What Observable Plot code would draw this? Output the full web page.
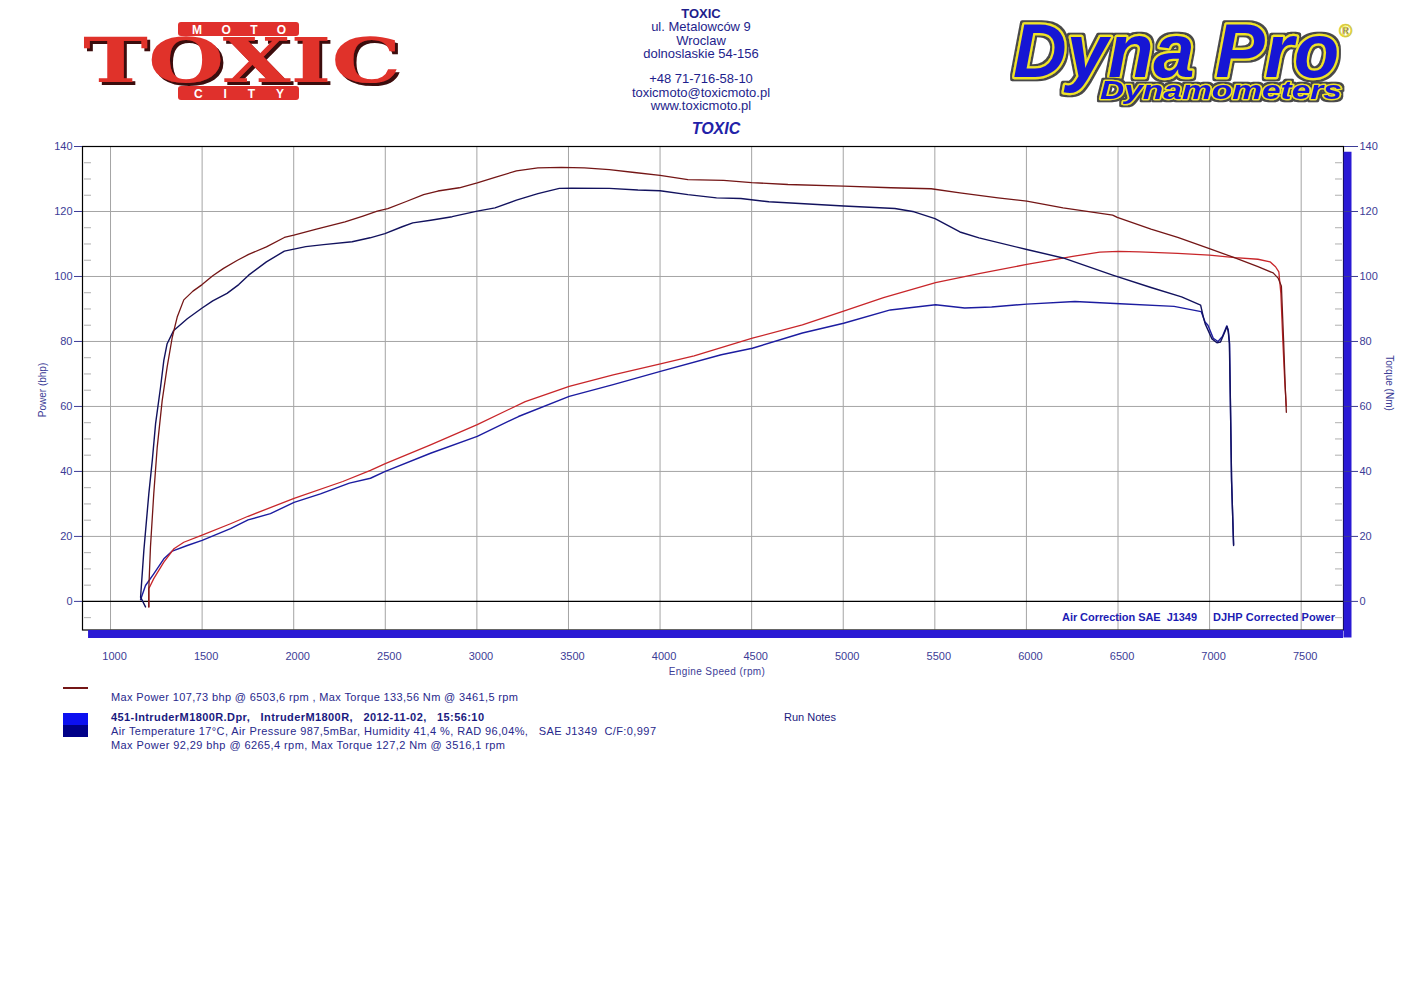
<!DOCTYPE html>
<html><head><meta charset="utf-8">
<script src="https://cdn.jsdelivr.net/npm/d3@7"></script>
<script src="https://cdn.jsdelivr.net/npm/@observablehq/plot@0.6"></script>
<style>
body{margin:0;background:#fff;font-family:"Liberation Sans",Arial,sans-serif}
#page{position:relative;width:1403px;height:992px;overflow:hidden;background:#fff}
#chart{position:absolute;left:0;top:130px;z-index:1}
#overlay{position:absolute;left:0;top:0;z-index:2;pointer-events:none}
#overlay text{white-space:pre}
</style></head><body>
<div id="page"><div id="chart"></div><svg id="overlay" width="1403" height="992" xmlns="http://www.w3.org/2000/svg">
<defs>
<filter id="toxShadow" x="-5%" y="-10%" width="115%" height="130%">
  <feOffset in="SourceAlpha" dx="3" dy="3" result="off"/>
  <feFlood flood-color="#3a0808"/>
  <feComposite in2="off" operator="in" result="sh"/>
  <feMerge><feMergeNode in="sh"/><feMergeNode in="SourceGraphic"/></feMerge>
</filter>
<filter id="dpOutline" x="-10%" y="-25%" width="120%" height="150%">
  <feMorphology in="SourceAlpha" operator="dilate" radius="1.6" result="d"/>
  <feFlood flood-color="#4a4a4a"/>
  <feComposite in2="d" operator="in" result="o"/>
  <feMerge><feMergeNode in="o"/><feMergeNode in="SourceGraphic"/></feMerge>
</filter>
</defs>
</svg></div>
<script>
// ---------- DATA (rpm, value) ----------
// Run 1 (red): torque in Nm, power in bhp
const redTorque = [[1209,-1.7],[1209,4],[1218,16.7],[1236,33.1],[1255,47.5],[1282,61.8],[1309,72.1],[1337,81.3],[1364,87.5],[1400,92.8],[1450,95.5],[1500,97.5],[1558,100.2],[1617,102.5],[1693,105],[1754,106.8],[1851,109.1],[1949,112],[2001,112.7],[2124,114.6],[2280,116.8],[2378,118.6],[2456,120.1],[2514,120.9],[2611,123],[2709,125.2],[2787,126.3],[2904,127.3],[3002,128.8],[3099,130.5],[3216,132.5],[3333,133.4],[3461,133.56],[3587,133.4],[3723,132.9],[3860,132],[4000,131.1],[4152,129.8],[4347,129.6],[4500,128.9],[4698,128.3],[5003,127.8],[5261,127.3],[5480,127],[5637,125.7],[5845,124.2],[6002,123.2],[6200,121.1],[6471,118.9],[6496,118.2],[6680,114.6],[6826,112],[6999,108.6],[7139,105.7],[7264,103],[7347,101.1],[7374,99.5],[7392,97],[7404,80.3],[7413,66],[7419,58.2]];
const redPower = [[1209,-1.7],[1209,3.9],[1236,7],[1291,12.1],[1346,16.2],[1400,18.2],[1500,20.4],[1655,23.9],[1751,26.2],[2002,31.7],[2268,36.9],[2419,40.3],[2500,42.4],[2747,48.2],[3002,54.4],[3264,61.5],[3504,66.2],[3744,69.7],[4002,73.1],[4186,75.6],[4504,81],[4777,85.1],[5002,89.3],[5220,93.5],[5504,98.1],[5741,100.9],[6002,103.7],[6253,106.2],[6400,107.5],[6504,107.73],[6617,107.6],[6826,107.1],[6999,106.6],[7139,105.8],[7264,105.3],[7330,104.5],[7360,103],[7378,101.4],[7389,94.8],[7400,80],[7410,68],[7419,60]];
// Run 2 (blue): 451-IntruderM1800R
const blueTorque = [[1191,-1.7],[1164,1.3],[1182,15.7],[1209,33.1],[1228,43.4],[1246,54.7],[1273,65.9],[1291,74.2],[1309,79.3],[1345,83.4],[1419,87],[1500,90.3],[1558,92.5],[1636,94.8],[1700,97.5],[1754,100.4],[1851,104.5],[1949,107.8],[2001,108.4],[2066,109.2],[2163,109.8],[2319,110.7],[2417,111.9],[2498,113.2],[2592,115.3],[2650,116.5],[2748,117.3],[2865,118.4],[3002,120.1],[3099,121.1],[3216,123.5],[3333,125.5],[3450,127.1],[3516,127.2],[3723,127.1],[3879,126.6],[4000,126.4],[4152,125.2],[4308,124.2],[4441,124],[4594,123],[5003,121.7],[5282,120.9],[5387,119.9],[5501,117.8],[5637,113.7],[5741,111.9],[6002,108.3],[6200,105.7],[6471,100.4],[6680,96.6],[6847,93.7],[6951,91.2],[6966,87.5],[6976,85.4],[7013,80.8],[7040,79.6],[7059,79.8],[7080,82.5],[7095,84.6],[7102,83],[7108,79.3],[7114,59.8],[7120,37.2],[7131,17.2]];
const bluePower = [[1164,0.5],[1191,4.9],[1236,8.5],[1291,13.1],[1337,15.5],[1419,17.2],[1500,18.8],[1655,22.4],[1751,25.1],[1873,27],[2002,30.5],[2146,33.1],[2304,36.4],[2419,37.9],[2500,40],[2747,45.6],[3002,50.8],[3227,56.9],[3504,63.1],[3744,66.7],[4002,70.8],[4334,75.9],[4504,77.9],[4777,82.6],[5002,85.6],[5257,89.7],[5504,91.3],[5663,90.3],[5810,90.6],[6002,91.5],[6265,92.29],[6511,91.6],[6806,90.8],[6954,89.2],[6975,86],[6991,85],[7020,81],[7046,80],[7070,81.5],[7094,84.8],[7102,83.5],[7109,79.5],[7114,60],[7120,37],[7131,17.5]];

const xTicks = [1000,1500,2000,2500,3000,3500,4000,4500,5000,5500,6000,6500,7000,7500];
const yTicks = [0,20,40,60,80,100,120,140];
const yMinor = [-5,5,10,15,25,30,35,45,50,55,65,70,75,85,90,95,105,110,115,125,130,135];

const headerLines = ["ul. Metalowców 9","Wroclaw","dolnoslaskie 54-156","","+48 71-716-58-10","toxicmoto@toxicmoto.pl","www.toxicmoto.pl"];
const legend1 = "Max Power 107,73 bhp @ 6503,6 rpm , Max Torque 133,56 Nm @ 3461,5 rpm";
const legend2Title = "451-IntruderM1800R.Dpr,   IntruderM1800R,   2012-11-02,   15:56:10";
const legend2Cond = "Air Temperature 17°C, Air Pressure 987,5mBar, Humidity 41,4 %, RAD 96,04%,   SAE J1349  C/F:0,997";
const legend2Max = "Max Power 92,29 bhp @ 6265,4 rpm, Max Torque 127,2 Nm @ 3516,1 rpm";

// ---------- CHART ----------
const xDomain = [847, 7731];
const yDomain = [-8.8, 140];
const axisColor = "#3c3c96";
const shadowBlue = "#2a1ad4";
const chart = Plot.plot({
  width: 1403, height: 560,
  marginLeft: 82, marginRight: 60, marginTop: 16, marginBottom: 60.5,
  style: {fontFamily: "'Liberation Sans', Arial, sans-serif", fontSize: "11px", color: axisColor, background: "transparent", overflow: "visible"},
  x: {domain: xDomain},
  y: {domain: yDomain},
  marks: [
    Plot.ruleX(xTicks, {stroke: "#a4a4a4", strokeWidth: 1}),
    Plot.ruleY(yTicks.filter(d => d !== 0), {stroke: "#a4a4a4", strokeWidth: 1}),
    Plot.axisY({ticks: yMinor, anchor: "left", tickSize: 7, dx: 9, tickFormat: () => "", label: null, stroke: "#b0b0b0"}),
    Plot.axisY({ticks: yMinor, anchor: "right", tickSize: 7, dx: -9, tickFormat: () => "", label: null, stroke: "#b0b0b0"}),
    Plot.ruleY([0], {stroke: "#000", strokeWidth: 1.2}),
    Plot.line(bluePower, {x: d => d[0], y: d => d[1], stroke: "#1c1ca0", strokeWidth: 1.4}),
    Plot.line(redPower, {x: d => d[0], y: d => d[1], stroke: "#c8262a", strokeWidth: 1.3}),
    Plot.line(blueTorque, {x: d => d[0], y: d => d[1], stroke: "#12125e", strokeWidth: 1.4}),
    Plot.line(redTorque, {x: d => d[0], y: d => d[1], stroke: "#741616", strokeWidth: 1.3}),
    Plot.frame({stroke: "#000", strokeWidth: 1.2}),
    Plot.ruleY([{y: yDomain[0], x1: 880, x2: xDomain[1]}], {y: "y", x1: "x1", x2: "x2", dy: 4, stroke: shadowBlue, strokeWidth: 8}),
    Plot.ruleX([{x: xDomain[1], y1: 138.2, y2: -11.3}], {x: "x", y1: "y1", y2: "y2", dx: 4, stroke: shadowBlue, strokeWidth: 8}),
    Plot.axisY({ticks: yTicks, anchor: "left", tickSize: 8, tickPadding: 2, label: null}),
    Plot.axisY({ticks: yTicks, anchor: "right", tickSize: 14, tickPadding: 2, label: null}),
    Plot.axisX({ticks: xTicks, anchor: "bottom", tickSize: 0, tickPadding: 22, dx: 4, label: null, tickFormat: d => String(d)})
  ]
});
document.getElementById("chart").appendChild(chart);

// ---------- OVERLAY (header, logos, legend, labels) ----------
const ov = d3.select("#overlay");
const F = "'Liberation Sans', Arial, sans-serif";
const hdr = "#1e1e8c";

// header text
ov.append("text").attr("x", 701).attr("y", 18).attr("text-anchor", "middle").attr("font-family", F).attr("font-size", 13).attr("font-weight", "bold").attr("fill", hdr).text("TOXIC");
const hy = [31, 45, 58, 0, 83, 97, 110];
headerLines.forEach((t, i) => { if (t) ov.append("text").attr("x", 701).attr("y", hy[i]).attr("text-anchor", "middle").attr("font-family", F).attr("font-size", 13).attr("fill", hdr).text(t); });
ov.append("text").attr("x", 716).attr("y", 134).attr("text-anchor", "middle").attr("font-family", F).attr("font-size", 16).attr("font-weight", "bold").attr("font-style", "italic").attr("fill", "#2222a8").text("TOXIC");

// left logo: MOTO / TOXIC / CITY
const red = "#e0302c";
ov.append("rect").attr("x", 178).attr("y", 22).attr("width", 121).attr("height", 14).attr("rx", 3).attr("fill", red);
ov.append("text").attr("x", 192).attr("y", 34).attr("font-family", F).attr("font-size", 12).attr("font-weight", "bold").attr("fill", "#fff").attr("textLength", 94).attr("lengthAdjust", "spacing").text("MOTO");
ov.append("rect").attr("x", 178).attr("y", 86).attr("width", 121).attr("height", 14).attr("rx", 3).attr("fill", red);
ov.append("text").attr("x", 194).attr("y", 98).attr("font-family", F).attr("font-size", 12).attr("font-weight", "bold").attr("fill", "#fff").attr("textLength", 90).attr("lengthAdjust", "spacing").text("CITY");
ov.append("text").attr("x", 83).attr("y", 82).attr("font-family", "'DejaVu Serif', serif").attr("font-size", 62).attr("font-weight", "bold").attr("fill", red).attr("filter", "url(#toxShadow)").attr("textLength", 318).attr("lengthAdjust", "spacingAndGlyphs").text("TOXIC");

// right logo: Dyna Pro / Dynamometers
const dpBlue = "#1818d4", dpYel = "#f0e428";
ov.append("text").attr("x", 1013).attr("y", 77).attr("font-family", F).attr("font-size", 76).attr("font-weight", "bold").attr("font-style", "italic").attr("fill", dpBlue).attr("stroke", dpYel).attr("stroke-width", 4.5).attr("stroke-linejoin", "round").attr("paint-order", "stroke").attr("filter", "url(#dpOutline)").attr("textLength", 326).attr("lengthAdjust", "spacingAndGlyphs").text("Dyna Pro");
ov.append("text").attr("x", 1100).attr("y", 99).attr("font-family", F).attr("font-size", 26).attr("font-weight", "bold").attr("font-style", "italic").attr("fill", dpBlue).attr("stroke", dpYel).attr("stroke-width", 2.6).attr("stroke-linejoin", "round").attr("paint-order", "stroke").attr("filter", "url(#dpOutline)").attr("textLength", 242).attr("lengthAdjust", "spacingAndGlyphs").text("Dynamometers");
ov.append("text").attr("x", 1339).attr("y", 37).attr("font-family", F).attr("font-size", 18).attr("font-weight", "bold").attr("fill", dpBlue).attr("stroke", dpYel).attr("stroke-width", 0.8).text("®");

// in-plot annotations
ov.append("text").attr("x", 1062).attr("y", 621).attr("font-family", F).attr("font-size", 11).attr("font-weight", "bold").attr("fill", "#1c1cb4").attr("textLength", 135).text("Air Correction SAE  J1349");
ov.append("text").attr("x", 1213).attr("y", 621).attr("font-family", F).attr("font-size", 11).attr("font-weight", "bold").attr("fill", "#1c1cb4").attr("textLength", 122).text("DJHP Corrected Power");

// axis titles
ov.append("text").attr("transform", "translate(46,390) rotate(-90)").attr("text-anchor", "middle").attr("font-family", F).attr("font-size", 10).attr("fill", axisColor).text("Power (bhp)");
ov.append("text").attr("transform", "translate(1386,383) rotate(90)").attr("text-anchor", "middle").attr("font-family", F).attr("font-size", 10).attr("fill", axisColor).text("Torque (Nm)");
ov.append("text").attr("x", 717).attr("y", 675).attr("text-anchor", "middle").attr("font-family", F).attr("font-size", 10).attr("letter-spacing", 0.4).attr("fill", axisColor).text("Engine Speed (rpm)");

// legend
const lg = "#28288c";
ov.append("line").attr("x1", 63).attr("x2", 88).attr("y1", 688).attr("y2", 688).attr("stroke", "#741616").attr("stroke-width", 2);
ov.append("text").attr("x", 111).attr("y", 701).attr("font-family", F).attr("font-size", 11).attr("fill", lg).attr("textLength", 407).text(legend1);
ov.append("rect").attr("x", 63).attr("y", 713).attr("width", 25).attr("height", 12).attr("fill", "#0c10f0");
ov.append("rect").attr("x", 63).attr("y", 725).attr("width", 25).attr("height", 12).attr("fill", "#000088");
ov.append("text").attr("x", 111).attr("y", 721).attr("font-family", F).attr("font-size", 11).attr("font-weight", "bold").attr("fill", "#1a1a80").attr("textLength", 373).text(legend2Title);
ov.append("text").attr("x", 784).attr("y", 721).attr("font-family", F).attr("font-size", 11).attr("fill", "#1a1a80").text("Run Notes");
ov.append("text").attr("x", 111).attr("y", 735).attr("font-family", F).attr("font-size", 11).attr("fill", lg).attr("textLength", 545).text(legend2Cond);
ov.append("text").attr("x", 111).attr("y", 749).attr("font-family", F).attr("font-size", 11).attr("fill", lg).attr("textLength", 394).text(legend2Max);
</script>
</body></html>
